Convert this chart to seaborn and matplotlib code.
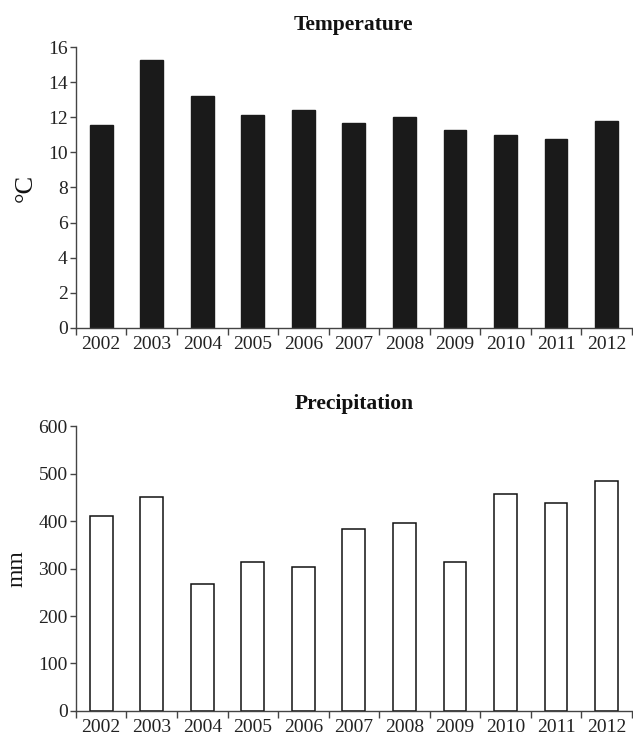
import numpy as np
import matplotlib
matplotlib.use("Agg")
import matplotlib.pyplot as plt
import seaborn as sns

years = ["2002", "2003", "2004", "2005", "2006", "2007",
         "2008", "2009", "2010", "2011", "2012"]
temperature = [11.55, 15.25, 13.2, 12.1, 12.4, 11.7, 12.0, 11.25, 11.0, 10.75, 11.8]
precipitation = [411, 451, 268, 313, 304, 383, 395, 313, 457, 438, 484]

sns.set_theme(style="ticks")
plt.rcParams["font.family"] = ["Liberation Serif", "DejaVu Serif"]
plt.rcParams["axes.edgecolor"] = "#444444"
plt.rcParams["xtick.color"] = "#444444"
plt.rcParams["ytick.color"] = "#444444"
plt.rcParams["xtick.labelcolor"] = "#222222"
plt.rcParams["ytick.labelcolor"] = "#222222"

fig = plt.figure(figsize=(6.33, 7.39), dpi=100)
ax1 = fig.add_axes([0.120, 0.5562, 0.878, 0.3802])
ax2 = fig.add_axes([0.120, 0.0379, 0.878, 0.3856])


def style_axis(ax, ymax, ystep, title, ylabel, ylabel_size):
    n = len(years)
    ax.set_xlim(-0.5, n - 0.5)
    ax.set_ylim(0, ymax)
    ax.set_yticks(np.arange(0, ymax + 1e-9, ystep))
    # boundary ticks between categories, labels at centres
    ax.set_xticks(np.arange(-0.5, n, 1.0))
    ax.set_xticklabels([])
    ax.set_xticks(np.arange(n), minor=True)
    ax.set_xticklabels(years, minor=True)
    ax.tick_params(axis="x", which="major", length=5, width=1, direction="out")
    ax.tick_params(axis="x", which="minor", length=0, pad=6, labelsize=14)
    ax.tick_params(axis="y", length=4, width=1, direction="out", pad=2, labelsize=14)
    sns.despine(ax=ax)
    ax.spines["left"].set_linewidth(1.0)
    ax.spines["bottom"].set_linewidth(1.0)
    ax.set_title(title, fontsize=15.5, fontweight="bold", pad=12, color="#111111")
    ax.set_xlabel("")
    ax.set_ylabel(ylabel, fontsize=ylabel_size, color="#111111", labelpad=8)


sns.barplot(x=years, y=temperature, ax=ax1, color="#1a1a1a",
            saturation=1, width=0.45, edgecolor="#1a1a1a")
style_axis(ax1, 16, 2, "Temperature", "°C", 19)

sns.barplot(x=years, y=precipitation, ax=ax2, color="white",
            saturation=1, width=0.45, edgecolor="#111111", linewidth=1.1)
style_axis(ax2, 600, 100, "Precipitation", "mm", 17)

fig.savefig("out.png", dpi=100)
